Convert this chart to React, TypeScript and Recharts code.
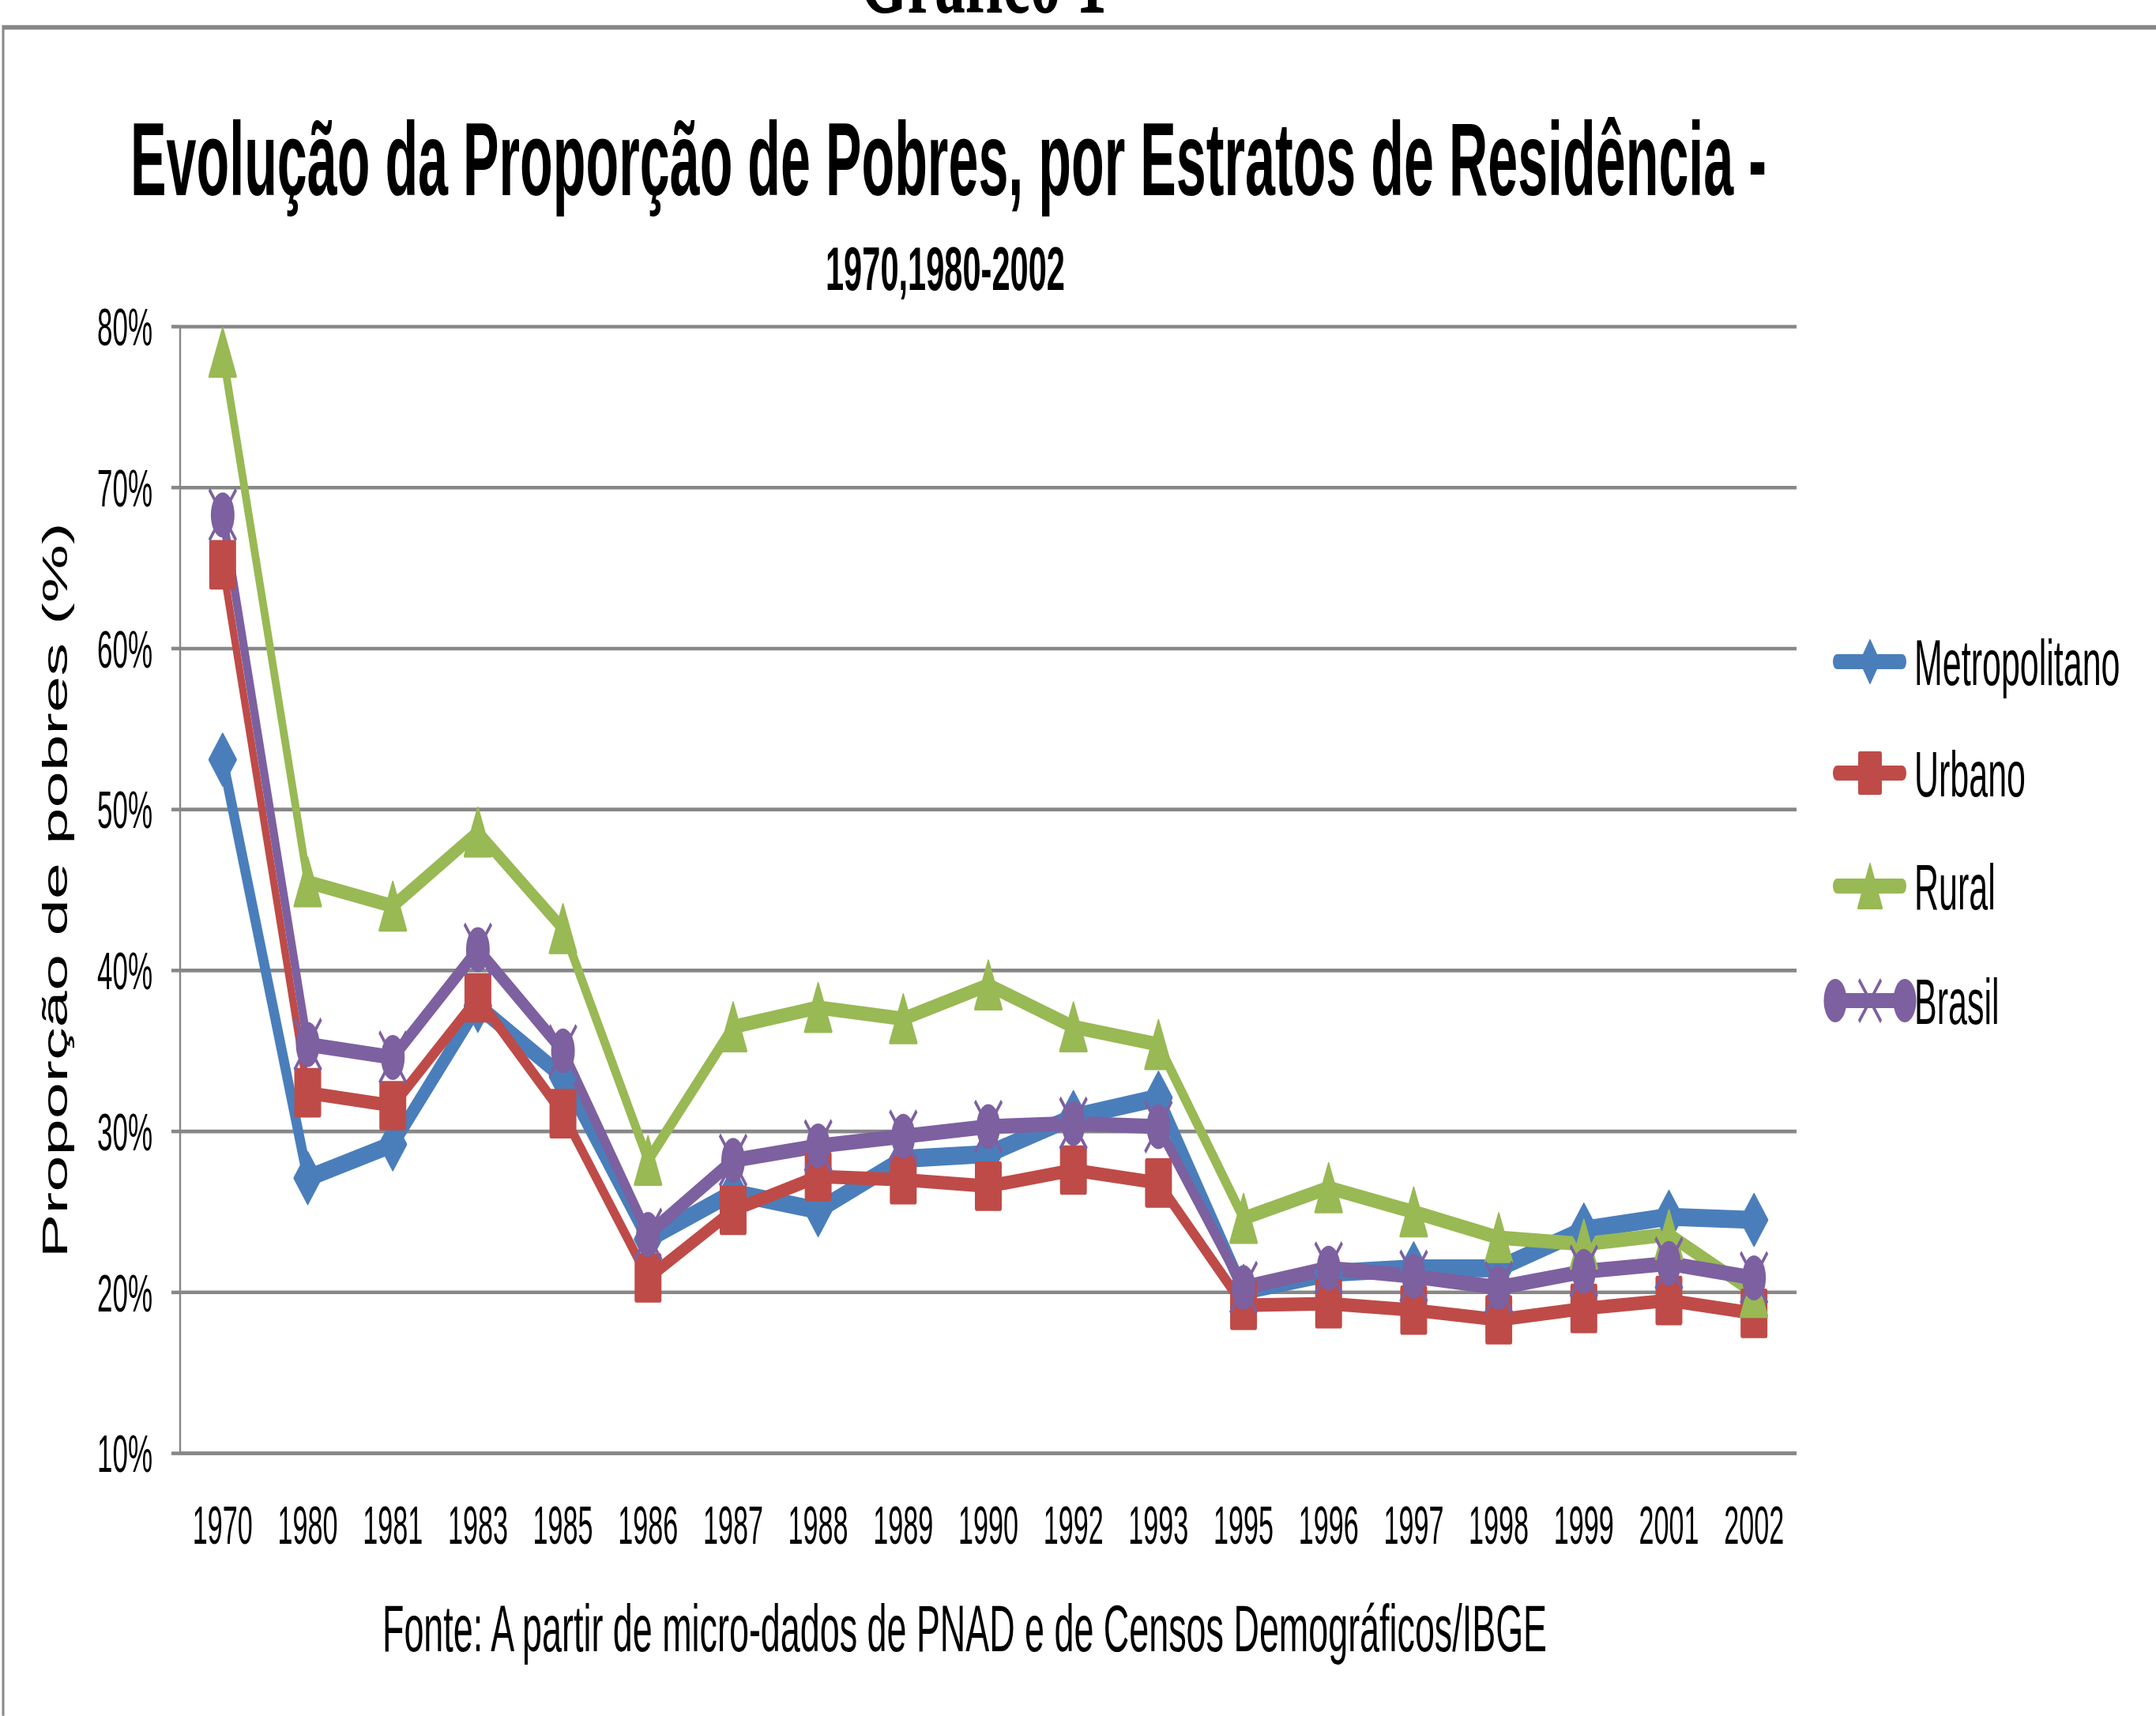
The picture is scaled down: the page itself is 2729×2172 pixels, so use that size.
import React from 'react';
import { LineChart, Line, XAxis, YAxis, CartesianGrid, Legend } from 'recharts';

// reference is an Excel chart stretched vertically; draw flat and scale in Y
const W = 2729;
const FULL_H = 2172;
const S = 1.9;
const H = FULL_H / S;

const years = [
  '1970', '1980', '1981', '1983', '1985', '1986', '1987', '1988', '1989', '1990',
  '1992', '1993', '1995', '1996', '1997', '1998', '1999', '2001', '2002'
];
const metropolitano = [53.1, 27.1, 29.2, 37.8, 33.4, 23.3, 26.2, 25.1, 28.3, 28.6, 30.9, 32.1, 20.1, 21.2, 21.5, 21.5, 23.9, 24.7, 24.5];
const urbano = [65.2, 32.4, 31.6, 38.3, 31.1, 20.9, 25.1, 27.2, 27.0, 26.6, 27.6, 26.8, 19.2, 19.3, 18.9, 18.3, 19.0, 19.5, 18.7];
const rural = [78.4, 45.5, 44.0, 48.6, 42.6, 28.2, 36.5, 37.7, 37.0, 39.1, 36.5, 35.4, 24.6, 26.5, 25.0, 23.4, 23.0, 23.6, 20.0];
const brasil = [68.3, 35.4, 34.6, 41.3, 35.0, 23.6, 28.2, 29.1, 29.7, 30.3, 30.5, 30.3, 20.3, 21.5, 21.0, 20.3, 21.3, 21.8, 20.9];
const yTicks = [10, 20, 30, 40, 50, 60, 70, 80];

const data = years.map((year, i) => ({
  year,
  metropolitano: metropolitano[i],
  urbano: urbano[i],
  rural: rural[i],
  brasil: brasil[i]
}));

const GRID = '#878787';
const FONT = '"Liberation Sans", Arial, sans-serif';

type Marker = 'diamond' | 'square' | 'triangle' | 'circleX';

const series: { key: string; name: string; color: string; width: number; marker: Marker }[] = [
  { key: 'metropolitano', name: 'Metropolitano', color: '#4A7EBB', width: 12, marker: 'diamond' },
  { key: 'urbano', name: 'Urbano', color: '#BE4B48', width: 9, marker: 'square' },
  { key: 'rural', name: 'Rural', color: '#98B954', width: 9.5, marker: 'triangle' },
  { key: 'brasil', name: 'Brasil', color: '#7D60A0', width: 10, marker: 'circleX' }
];

function markerShape(kind: Marker, cx: number, cy: number, color: string, hw: number, hh: number) {
  if (kind === 'diamond') {
    return (
      <path
        d={`M${cx},${cy - hh} L${cx + hw},${cy} L${cx},${cy + hh} L${cx - hw},${cy} Z`}
        fill={color}
        stroke={color}
        strokeWidth={2}
        strokeLinejoin="round"
      />
    );
  }
  if (kind === 'square') {
    return <rect x={cx - hw} y={cy - hh} width={hw * 2} height={hh * 2} rx={2} fill={color} />;
  }
  if (kind === 'triangle') {
    return (
      <path
        d={`M${cx},${cy - hh} L${cx + hw},${cy + hh} L${cx - hw},${cy + hh} Z`}
        fill={color}
        stroke={color}
        strokeWidth={2}
        strokeLinejoin="round"
      />
    );
  }
  return (
    <g>
      <line x1={cx - hw - 2} y1={cy - hh - 2} x2={cx + hw + 2} y2={cy + hh + 2} stroke={color} strokeWidth={3} />
      <line x1={cx - hw - 2} y1={cy + hh + 2} x2={cx + hw + 2} y2={cy - hh - 2} stroke={color} strokeWidth={3} />
      <circle cx={cx} cy={cy} r={hw} fill={color} />
    </g>
  );
}

const makeDot = (kind: Marker, color: string) => (p: any) => {
  const { cx, cy, index } = p;
  if (cx == null || cy == null) return <g key={`m-${index}`} />;
  const size = kind === 'circleX' ? 15 : 17;
  const hh = kind === 'triangle' ? 16 : kind === 'square' ? 16.5 : size;
  return <g key={`m-${index}`}>{markerShape(kind, cx, cy, color, size, hh)}</g>;
};

const XTick = (p: any) => (
  <text
    x={p.x}
    y={p.y + 60}
    textAnchor="middle"
    fontFamily={FONT}
    fontSize={36}
    textLength={76}
    lengthAdjust="spacingAndGlyphs"
    fill="#000"
  >
    {p.payload.value}
  </text>
);

const YTick = (p: any) => (
  <text x={p.x - 22} y={p.y + 12.5} textAnchor="end" fontFamily={FONT} fontSize={35} fill="#000">
    {`${p.payload.value}%`}
  </text>
);

const LEG_LEFT = 2290;
const LEG_TOP = 384;
const legendY = [56.8, 131, 206.3, 282.6];

const renderLegend = () => (
  <svg width={440} height={330} style={{ overflow: 'visible' }}>
    {series.map((s, i) => {
      const y = legendY[i];
      return (
        <g key={s.key}>
          <line x1={35} y1={y} x2={118} y2={y} stroke={s.color} strokeWidth={10} strokeLinecap="round" />
          {s.marker === 'circleX' ? (
            <g>
              <circle cx={33} cy={y} r={14.5} fill={s.color} />
              <circle cx={121} cy={y} r={14.5} fill={s.color} />
              <line x1={63} y1={y - 14} x2={91} y2={y + 14} stroke={s.color} strokeWidth={3} />
              <line x1={63} y1={y + 14} x2={91} y2={y - 14} stroke={s.color} strokeWidth={3} />
            </g>
          ) : (
            markerShape(s.marker, 77, y, s.color, s.marker === 'diamond' ? 12 : 15, s.marker === 'diamond' ? 14 : 14.5)
          )}
          <text x={133} y={y + 15.5} fontFamily={FONT} fontSize={43} fill="#000">
            {s.name}
          </text>
        </g>
      );
    })}
  </svg>
);

export default function App() {
  return (
    <div style={{ position: 'absolute', left: 0, top: 0, width: W, height: FULL_H, overflow: 'hidden', background: '#fff' }}>
      <div
        style={{
          position: 'absolute',
          left: 0,
          top: 0,
          width: W,
          height: H,
          transform: `scaleY(${S})`,
          transformOrigin: '0 0'
        }}
      >
        <LineChart width={W} height={H} data={data} margin={{ top: 217.6, right: 455, bottom: H - 968.2 - 60, left: 0 }}>
          <CartesianGrid vertical={false} stroke={GRID} strokeWidth={2.4} />
          <XAxis
            dataKey="year"
            interval={0}
            padding={{ left: 53.84, right: 53.84 }}
            height={60}
            tickSize={0}
            tickMargin={0}
            tickLine={false}
            axisLine={{ stroke: GRID, strokeWidth: 2.4 }}
            tick={XTick}
          />
          <YAxis
            domain={[10, 80]}
            ticks={yTicks}
            interval={0}
            width={228}
            tickSize={11}
            axisLine={{ stroke: GRID, strokeWidth: 2.4 }}
            tickLine={{ stroke: GRID, strokeWidth: 2.4 }}
            tick={YTick}
          />
          <Legend
            layout="vertical"
            align="center"
            verticalAlign="middle"
            wrapperStyle={{ left: LEG_LEFT, top: LEG_TOP, width: 440, height: 330 }}
            content={renderLegend}
          />
          {series.map((s) => (
            <Line
              key={s.key}
              type="linear"
              dataKey={s.key}
              name={s.name}
              stroke={s.color}
              strokeWidth={s.width}
              strokeLinejoin="round"
              dot={makeDot(s.marker, s.color)}
              activeDot={false}
              isAnimationActive={false}
            />
          ))}
        </LineChart>
        <svg
          width={W}
          height={H}
          style={{ position: 'absolute', left: 0, top: 0, pointerEvents: 'none' }}
        >
          <path d={`M4,${H} L4,18.2 L${W},18.2`} fill="none" stroke={GRID} strokeWidth={3} />
          <text
            x={1244.5}
            y={8.4}
            textAnchor="middle"
            fontFamily='"Liberation Serif", "Times New Roman", serif'
            fontWeight="bold"
            fontSize={70}
            textLength={313}
            lengthAdjust="spacingAndGlyphs"
          >
            Gráfico 1
          </text>
          <text
            x={1200.5}
            y={130}
            textAnchor="middle"
            fontFamily={FONT}
            fontWeight="bold"
            fontSize={69}
            textLength={2071}
            lengthAdjust="spacingAndGlyphs"
          >
            Evolução da Proporção de Pobres, por Estratos de Residência -
          </text>
          <text
            x={1196.5}
            y={193.2}
            textAnchor="middle"
            fontFamily={FONT}
            fontWeight="bold"
            fontSize={41}
            textLength={303}
            lengthAdjust="spacingAndGlyphs"
          >
            1970,1980-2002
          </text>
          <text
            transform="translate(85,593) rotate(-90)"
            textAnchor="middle"
            fontFamily={FONT}
            fontSize={45}
            textLength={490}
            lengthAdjust="spacingAndGlyphs"
          >
            Proporção de pobres (%)
          </text>
          <text
            x={1221}
            y={1100}
            textAnchor="middle"
            fontFamily={FONT}
            fontSize={44}
            textLength={1474}
            lengthAdjust="spacingAndGlyphs"
          >
            Fonte: A partir de micro-dados de PNAD e de Censos Demográficos/IBGE
          </text>
        </svg>
      </div>
    </div>
  );
}
